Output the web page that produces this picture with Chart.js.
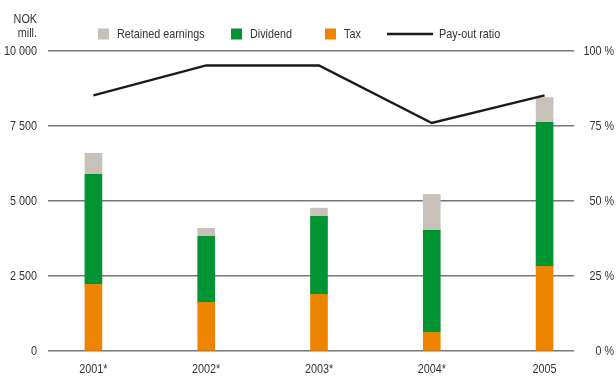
<!DOCTYPE html>
<html>
<head>
<meta charset="utf-8">
<script src="https://cdn.jsdelivr.net/npm/chart.js@4.4.0/dist/chart.umd.min.js"></script>
<style>
  html, body { margin: 0; padding: 0; background: #fff; }
</style>
</head>
<body>
<canvas id="grafic" width="616" height="376"></canvas>
<script>
// Data (NOK mill. and %)
const years = ['2001*', '2002*', '2003*', '2004*', '2005'];
const tax = [2220, 1620, 1890, 620, 2820];
const dividend = [3670, 2200, 2600, 3400, 4800];
const retained = [700, 270, 270, 1200, 830];
const payoutRatio = [85.2, 95.2, 95.2, 76, 85.2];
const nokTicks = [0, 2500, 5000, 7500, 10000];
const pctTicks = [0, 25, 50, 75, 100];

const FONT = "13.5px 'Liberation Sans', Arial, sans-serif";
const NARROW = 0.8;   // squeeze text to a condensed look
const TEXT = '#333';

// bars sit on a linear x axis, one unit per year
const toXY = vals => vals.map((v, i) => ({ x: i, y: v }));
const spaced = v => String(v).replace(/\B(?=(\d{3})+(?!\d))/g, ' ');

function narrowText(c, text, x, y) {
    c.fillText(text, x, y, c.measureText(text).width * NARROW);
}

// all texts: tick labels, unit, legend
const legendStart = [98, 231, 325, 387];
const legendOrder = [2, 1, 0, 3];
const texts = {
    id: 'texts',
    afterDraw(chart) {
        const c = chart.ctx;
        const { x, y, y2 } = chart.scales;
        c.save();
        c.font = FONT;
        c.textBaseline = 'middle';
        c.fillStyle = TEXT;

        // left axis + unit
        c.textAlign = 'right';
        narrowText(c, 'NOK', 37, 19);
        narrowText(c, 'mill.', 37, 33);
        y.ticks.forEach(t => narrowText(c, spaced(t.value), 37, y.getPixelForValue(t.value)));
        // right axis
        y2.ticks.forEach(t => narrowText(c, t.value + ' %', 614, y2.getPixelForValue(t.value)));
        // years
        c.textAlign = 'center';
        x.ticks.forEach(t => narrowText(c, years[t.value], x.getPixelForValue(t.value), 369));

        // legend
        c.textAlign = 'left';
        const ly = 34;
        legendOrder.forEach((idx, k) => {
            const ds = chart.data.datasets[idx];
            let lx = legendStart[k];
            if (ds.type === 'line') {
                c.strokeStyle = ds.borderColor;
                c.lineWidth = ds.borderWidth;
                c.beginPath();
                c.moveTo(lx, ly);
                c.lineTo(lx + 46, ly);
                c.stroke();
                lx += 52;
            } else {
                c.fillStyle = ds.backgroundColor;
                c.fillRect(lx, ly - 5.5, 11, 11);
                lx += 19;
            }
            c.fillStyle = TEXT;
            narrowText(c, ds.label, lx, ly);
        });
        c.restore();
    }
};

const bar = (label, data, color) => ({
    label, data: toXY(data), backgroundColor: color,
    yAxisID: 'y', stack: 's', barThickness: 17, order: 1
});

new Chart(document.getElementById('grafic').getContext('2d'), {
    type: 'bar',
    data: {
        datasets: [
            bar('Tax', tax, '#ee8500'),
            bar('Dividend', dividend, '#009432'),
            bar('Retained earnings', retained, '#c8c1ba'),
            {
                type: 'line', label: 'Pay-out ratio', data: toXY(payoutRatio),
                yAxisID: 'y2', borderColor: '#1a1a1a', borderWidth: 2.5,
                pointRadius: 0, tension: 0, order: 0
            }
        ]
    },
    options: {
        responsive: false,
        animation: false,
        layout: { padding: { top: 51 } },
        plugins: { legend: { display: false }, tooltip: { enabled: false } },
        scales: {
            x: {
                type: 'linear', min: -0.4027, max: 4.261, offset: false,
                grid: { display: false }, border: { display: false },
                afterBuildTicks: s => { s.ticks = years.map((_, i) => ({ value: i })); },
                afterFit: s => { s.height = 25; },
                ticks: { display: false }
            },
            y: {
                position: 'left', stacked: true, min: 0, max: 10000,
                afterBuildTicks: s => { s.ticks = nokTicks.map(v => ({ value: v })); },
                afterFit: s => { s.width = 48; },
                grid: { color: '#777', lineWidth: 1.4, drawTicks: false },
                border: { display: false },
                ticks: { display: false }
            },
            y2: {
                position: 'right', min: 0, max: 100,
                afterBuildTicks: s => { s.ticks = pctTicks.map(v => ({ value: v })); },
                afterFit: s => { s.width = 42; },
                grid: { display: false, drawTicks: false },
                border: { display: false },
                ticks: { display: false }
            }
        }
    },
    plugins: [texts]
});
</script>
</body>
</html>
